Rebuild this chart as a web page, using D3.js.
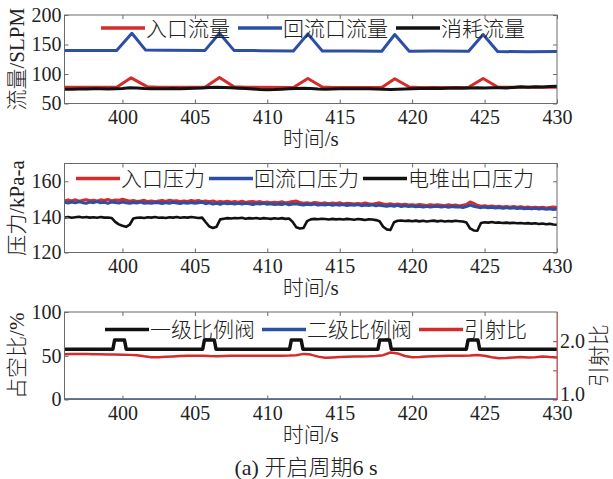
<!DOCTYPE html>
<html>
<head>
<meta charset="utf-8">
<script src="https://cdn.jsdelivr.net/npm/d3@7"></script>
<style>
  body { margin: 0; background: #fff; }
  svg text { font-family: "Liberation Serif", "Noto Sans CJK SC", serif; fill: #222; }
  .cjk { font-family: "Liberation Serif", "Noto Sans CJK SC", serif; font-weight: 300; }
</style>
</head>
<body>
<svg id="chart" width="613" height="479"></svg>
<script>
// ---- DATA ----

const timeTicks = [400, 405, 410, 415, 420, 425, 430];

// flow, SLPM: [time s, value]
const inletFlow = [
  [396, 77.5], [399.6, 77.5], [400.6, 93.5], [401.7, 78.5], [402.5, 77.5],
  [405.7, 77.5], [406.7, 94], [407.7, 78.5], [408.5, 77.5],
  [411.8, 77], [412.8, 92.5], [413.8, 78], [414.5, 77],
  [417.9, 77], [418.8, 92], [419.8, 78], [420.5, 77],
  [423.9, 77.5], [424.9, 92.5], [425.9, 78], [426.5, 77.5], [430, 77.5]
];
const returnFlow = [
  [396, 140], [399.6, 140], [400.65, 169], [401.6, 140.5], [403, 140.3],
  [405.7, 140], [406.7, 169], [407.7, 140], [409.5, 139.6],
  [411.8, 139], [412.8, 168], [413.8, 139], [416, 139],
  [417.9, 138.5], [418.8, 167], [419.8, 138.5], [421.5, 138.8],
  [423.9, 138.5], [424.9, 167], [425.9, 138], [428, 137.8], [430, 138]
];
// consumption flow, sampled every 0.5 s from 396 s
const consumedFlow = [
  74.0, 74.3, 74.6, 74.4, 74.8, 75.0, 74.7, 75.1, 75.6, 76.8,
  76.2, 75.3, 74.9, 75.2, 75.0, 75.3, 75.1, 75.5, 75.8, 76.2,
  77.0, 77.6, 77.2, 76.5, 76.0, 75.4, 74.6, 73.8, 73.4, 73.6,
  74.2, 74.8, 75.3, 76.0, 75.6, 74.7, 74.3, 74.6, 75.0, 75.2,
  74.9, 75.1, 74.8, 74.5, 74.1, 73.8, 74.2, 74.6, 75.2, 75.6,
  75.4, 75.8, 75.5, 75.9, 76.1, 75.8, 76.3, 76.6, 76.2, 76.5,
  76.9, 76.4, 77.3, 78.2, 77.6, 78.5, 77.8, 78.9, 79.4
];

// pressure, kPa-a, sampled every 0.25 s from 396 s
const inletPressure = [
  148.9, 149.5, 149.0, 149.6, 148.8, 149.3, 149.7, 149.1,
  149.4, 148.9, 149.6, 149.2, 149.8, 149.0, 149.5, 149.3,
  149.9, 149.4, 148.8, 149.2, 148.7, 148.9, 149.3, 148.6,
  149.0, 148.5, 148.9, 149.2, 148.7, 149.4, 148.9, 149.1,
  148.6, 149.0, 148.7, 149.3, 148.8, 149.2, 148.6, 149.0,
  148.5, 148.9, 148.3, 148.7, 148.4, 148.8, 148.2, 148.6,
  148.3, 148.8, 148.1, 148.5, 148.7, 148.2, 148.6, 148.0,
  148.4, 147.9, 148.3, 148.0, 148.5, 147.8, 148.2, 148.7,
  148.9, 148.1, 147.7, 148.0, 147.6, 148.1, 147.8, 147.5,
  147.9, 147.4, 147.8, 147.6, 148.0, 147.3, 147.7, 147.5,
  147.2, 147.6, 147.3, 147.8, 147.4, 147.1, 147.5, 147.9,
  147.3, 147.0, 147.4, 146.9, 147.2, 146.8, 147.1, 146.7,
  146.9, 146.6, 147.0, 146.7, 146.4, 146.9, 146.5, 146.8,
  146.6, 146.3, 146.8, 146.4, 146.7, 146.2, 146.6, 147.0,
  148.4, 147.6, 146.5, 146.0, 146.3, 145.8, 146.1, 145.7,
  146.0, 145.6, 145.9, 145.5, 145.8, 145.4, 145.7, 145.3,
  145.6, 145.2, 145.5, 145.1, 145.4, 145.0, 145.3, 145.6,
  145.2
];
const returnPressure = [
  148.2, 147.8, 148.4, 147.9, 148.5, 148.0, 147.7, 148.3,
  148.0, 148.6, 147.9, 148.2, 147.6, 148.4, 148.1, 147.8,
  148.3, 148.0, 147.6, 148.1, 147.8, 148.3, 147.7, 148.0,
  147.6, 148.1, 147.9, 147.5, 148.0, 147.7, 148.2, 147.8,
  147.5, 148.0, 147.7, 148.1, 147.6, 147.9, 148.2, 147.4,
  147.9, 147.2, 147.6, 147.1, 147.8, 147.4, 147.7, 147.3,
  147.6, 147.2, 147.7, 147.4, 147.0, 147.5, 147.2, 147.6,
  147.1, 147.4, 146.9, 147.3, 147.0, 147.5, 146.8, 147.2,
  147.4, 147.0, 146.7, 147.1, 146.8, 147.2, 146.6, 147.0,
  146.7, 147.1, 146.5, 146.9, 146.6, 147.0, 146.4, 146.8,
  146.5, 146.9, 146.3, 146.7, 146.4, 146.8, 146.2, 146.6,
  146.3, 145.9, 146.4, 146.0, 146.5, 145.8, 146.2, 145.9,
  146.1, 145.7, 146.0, 145.6, 145.9, 145.5, 145.8, 146.0,
  145.6, 145.9, 145.4, 145.8, 145.5, 145.7, 145.3, 145.8,
  146.6, 146.0, 145.5, 145.2, 145.6, 145.1, 145.4, 145.0,
  145.3, 144.9, 145.2, 144.8, 145.1, 144.7, 145.0, 144.6,
  144.9, 144.5, 144.8, 144.4, 144.7, 144.3, 144.6, 144.2,
  144.5
];
const stackOutletPressure = [
  139.6, 139.9, 139.5, 139.8, 140.1, 139.7, 139.9, 139.6,
  139.8, 139.5, 139.9, 139.6, 139.7, 139.4, 137.2, 135.8,
  135.0, 134.4, 135.6, 139.1, 139.5, 139.7, 139.4, 139.8,
  139.6, 139.9, 139.5, 139.7, 139.4, 139.8, 139.6, 139.9,
  139.5, 139.8, 139.6, 139.9, 139.7, 139.4, 139.6, 137.0,
  134.6, 133.8, 134.5, 138.6, 139.0, 139.3, 139.1, 139.4,
  139.2, 139.5, 139.0, 139.3, 139.1, 139.4, 139.0, 139.3,
  139.1, 138.9, 139.2, 139.0, 139.3, 138.9, 139.1, 137.2,
  134.2, 133.5, 133.8, 137.6, 138.6, 138.9, 138.7, 139.0,
  138.8, 138.5, 138.9, 138.6, 138.8, 138.5, 138.9, 138.7,
  138.4, 138.8, 138.6, 138.3, 138.7, 138.5, 138.2, 137.6,
  134.5, 133.0, 132.6, 137.0, 137.8, 138.0, 137.7, 137.9,
  137.6, 137.9, 137.5, 137.8, 137.4, 137.7, 137.9, 137.5,
  137.8, 137.4, 137.7, 137.5, 137.8, 137.6, 137.4, 136.8,
  133.5, 132.4, 132.2, 136.6, 137.0, 136.8, 137.1, 136.7,
  136.9, 136.6, 136.8, 136.5, 136.7, 136.4, 136.6, 136.3,
  136.5, 136.2, 136.4, 136.0, 136.3, 135.9, 136.1, 135.7,
  135.6
];

// valve duty, %
const valve1Base = 57.5;
const valve1Peak = 68;
const valve1On = [399.4, 405.6, 411.6, 417.7, 423.8];
const valve1Off = [400.2, 406.4, 412.4, 418.5, 424.6];
const valve2Duty = [[396, 0], [430, 0]];
// ejector ratio, sampled every 0.5 s from 396 s
const ejectorRatio = [
  1.775, 1.778, 1.780, 1.778, 1.776, 1.774, 1.772, 1.770, 1.768, 1.765,
  1.758, 1.740, 1.726, 1.724, 1.732, 1.738, 1.744, 1.748, 1.752, 1.750,
  1.744, 1.742, 1.746, 1.750, 1.752, 1.750, 1.752, 1.750, 1.748, 1.750,
  1.752, 1.754, 1.760, 1.782, 1.770, 1.735, 1.716, 1.722, 1.730, 1.734,
  1.736, 1.738, 1.740, 1.745, 1.760, 1.805, 1.790, 1.745, 1.726, 1.730,
  1.738, 1.742, 1.746, 1.748, 1.752, 1.750, 1.754, 1.762, 1.750, 1.725,
  1.706, 1.712, 1.722, 1.730, 1.718, 1.726, 1.738, 1.728, 1.722
];

// ---- LAYOUT ----

const RED = '#d42b2b';
const BLUE = '#2c4fa6';
const BLACK = '#111';
const SPINE = '#6a6a6a';

const svg = d3.select('#chart');
const x = d3.scaleLinear().domain([396, 430]).range([64.5, 557]);

// turn an evenly sampled series into [time, value] pairs
function sampled(values, step) {
  return values.map((v, i) => [396 + i * step, v]);
}

function valvePoints() {
  const pts = [[396, valve1Base]];
  for (let i = 0; i < valve1On.length; i++) {
    pts.push([valve1On[i] - 0.06, valve1Base], [valve1On[i] + 0.06, valve1Peak]);
    pts.push([valve1Off[i] - 0.06, valve1Peak], [valve1Off[i] + 0.06, valve1Base]);
  }
  pts.push([430, valve1Base]);
  return pts;
}

function drawPanel(p, idx) {
  const y = d3.scaleLinear().domain(p.yDomain).range([p.bottom, p.top]);
  const g = svg.append('g');

  g.append('clipPath').attr('id', 'clip' + idx)
    .append('rect')
    .attr('x', x.range()[0]).attr('y', p.top)
    .attr('width', x.range()[1] - x.range()[0]).attr('height', p.bottom - p.top);

  const plot = g.append('g').attr('clip-path', `url(#clip${idx})`);
  p.series.forEach(s => {
    const sy = s.right ? p.yRight : y;
    const line = d3.line().x(d => x(d[0])).y(d => sy(d[1]));
    plot.append('path')
      .datum(s.data)
      .attr('d', line)
      .attr('fill', 'none')
      .attr('stroke', s.color)
      .attr('stroke-width', s.width)
      .attr('stroke-linejoin', 'round')
      .attr('stroke-linecap', 'round');
  });

  // frame
  g.append('rect')
    .attr('x', x.range()[0]).attr('y', p.top)
    .attr('width', x.range()[1] - x.range()[0]).attr('height', p.bottom - p.top)
    .attr('fill', 'none').attr('stroke', SPINE).attr('stroke-width', 1);

  g.append('g')
    .attr('transform', `translate(0,${p.bottom})`)
    .call(d3.axisBottom(x).tickValues(timeTicks).tickSizeInner(-4).tickSizeOuter(0).tickPadding(6));
  g.append('g')
    .attr('transform', `translate(0,${p.top})`)
    .call(d3.axisTop(x).tickValues(timeTicks).tickSizeInner(-4).tickSizeOuter(0).tickFormat(''));
  g.append('g')
    .attr('transform', `translate(${x.range()[0]},0)`)
    .call(d3.axisLeft(y).tickValues(p.yTicks).tickSizeInner(-4).tickSizeOuter(0).tickPadding(3));

  if (p.yRight) {
    const rightAxis = g.append('g')
      .attr('transform', `translate(${x.range()[1]},0)`)
      .call(d3.axisRight(p.yRight).tickValues([1, 1.5, 2]).tickSizeInner(-4).tickSizeOuter(0).tickPadding(3)
        .tickFormat(d => d === 1.5 ? '' : d3.format('.1f')(d)));
    rightAxis.select('.domain').attr('stroke', '#d46060');
    rightAxis.selectAll('.tick line').attr('stroke', '#c03030');
    // lift the bottom label a little so it clears the 430 tick label
    rightAxis.selectAll('.tick text').filter(d => d === 1).attr('dy', '0.05em');
    g.append('text')
      .attr('class', 'cjk')
      .attr('transform', `translate(599,${(p.top + p.bottom) / 2}) rotate(-90)`)
      .attr('text-anchor', 'middle').attr('dy', '0.35em')
      .style('font-size', '21px')
      .text(p.rightLabel);
  } else {
    g.append('g')
      .attr('transform', `translate(${x.range()[1]},0)`)
      .call(d3.axisRight(y).tickValues(p.yTicks).tickSizeInner(-4).tickSizeOuter(0).tickFormat(''));
  }

  g.selectAll('.domain').filter(function () { return !this.getAttribute('stroke') || this.getAttribute('stroke') === 'currentColor'; })
    .attr('stroke', 'none');
  g.selectAll('.tick line').filter(function () { return this.getAttribute('stroke') === 'currentColor'; })
    .attr('stroke', SPINE);
  g.selectAll('.tick text').style('font-size', '20px').style('font-family', '"Liberation Serif", serif').attr('fill', '#222');

  // axis titles
  g.append('text')
    .attr('class', 'cjk')
    .attr('x', (x.range()[0] + x.range()[1]) / 2).attr('y', p.bottom + 35)
    .attr('text-anchor', 'middle').attr('dy', '0.35em')
    .style('font-size', '21px')
    .text('时间/s');
  g.append('text')
    .attr('class', 'cjk')
    .attr('transform', `translate(17,${(p.top + p.bottom) / 2}) rotate(-90)`)
    .attr('text-anchor', 'middle').attr('dy', '0.35em')
    .style('font-size', '21px')
    .text(p.yLabel);

  // legend
  let lx = p.legendX;
  p.series.filter(s => s.legend).forEach(s => {
    g.append('line')
      .attr('x1', lx).attr('x2', lx + 44)
      .attr('y1', p.legendY).attr('y2', p.legendY)
      .attr('stroke', s.color).attr('stroke-width', 3.5);
    lx += 45;
    const t = g.append('text')
      .attr('class', 'cjk')
      .attr('x', lx).attr('y', p.legendY).attr('dy', '0.36em')
      .style('font-size', '21px')
      .text(s.name);
    lx += t.node().getComputedTextLength() + p.legendGap;
  });
}

const panels = [
  {
    top: 15, bottom: 103.5, yDomain: [50, 200], yTicks: [50, 100, 150, 200],
    yLabel: '流量/SLPM', legendX: 101, legendY: 28, legendGap: 8,
    series: [
      { name: '入口流量', data: inletFlow, color: RED, width: 3, legend: true },
      { name: '回流口流量', data: returnFlow, color: BLUE, width: 3, legend: true },
      { name: '消耗流量', data: sampled(consumedFlow, 0.5), color: BLACK, width: 3, legend: true }
    ]
  },
  {
    top: 163.5, bottom: 252.5, yDomain: [120, 170], yTicks: [120, 140, 160],
    yLabel: '压力/kPa-a', legendX: 76, legendY: 178.5, legendGap: 4,
    series: [
      { name: '入口压力', data: sampled(inletPressure, 0.25), color: RED, width: 3, legend: true },
      { name: '回流口压力', data: sampled(returnPressure, 0.25), color: BLUE, width: 3, legend: true },
      { name: '电堆出口压力', data: sampled(stackOutletPressure, 0.25), color: BLACK, width: 2.6, legend: true }
    ]
  },
  {
    top: 312, bottom: 399.5, yDomain: [0, 100], yTicks: [0, 50, 100],
    yLabel: '占空比/%', legendX: 105, legendY: 329.5, legendGap: 7,
    rightLabel: '引射比',
    yRight: d3.scaleLinear().domain([1, 2.5]).range([399.5, 312]),
    series: [
      { name: '一级比例阀', data: valvePoints(), color: BLACK, width: 3.5, legend: true },
      { name: '二级比例阀', data: valve2Duty, color: BLUE, width: 2.5, legend: true },
      { name: '引射比', data: sampled(ejectorRatio, 0.5), color: RED, width: 2.5, legend: true, right: true }
    ]
  }
];

panels.forEach(drawPanel);

svg.append('text')
  .attr('class', 'cjk')
  .attr('x', 306).attr('y', 467).attr('dy', '0.35em')
  .attr('text-anchor', 'middle')
  .style('font-size', '22px')
  .text('(a) 开启周期6 s');
</script>
</body>
</html>
